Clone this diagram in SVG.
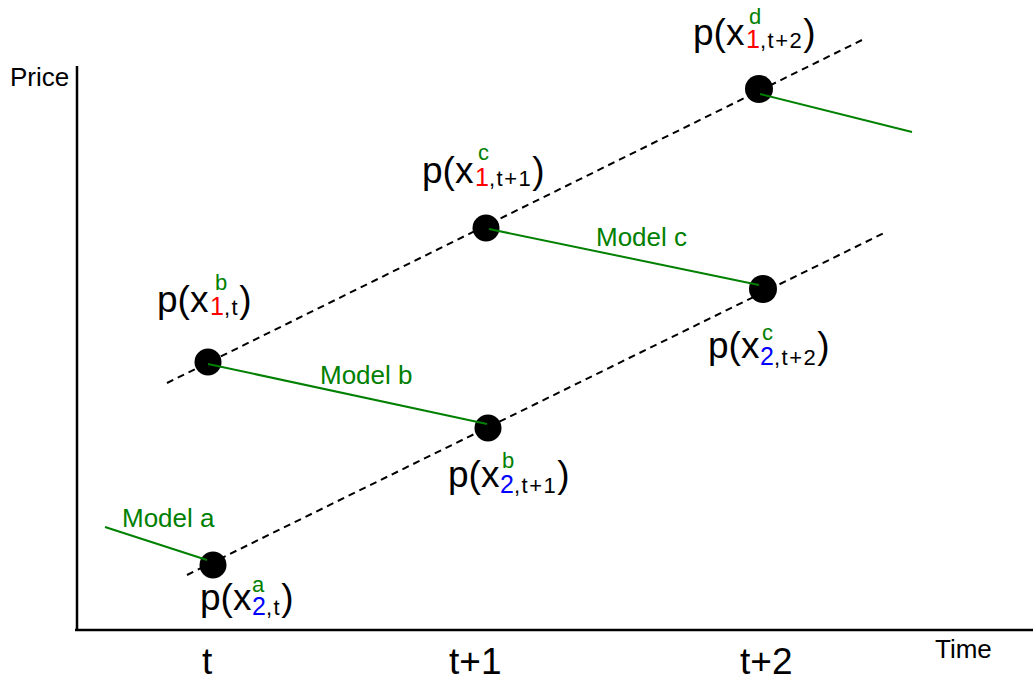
<svg xmlns="http://www.w3.org/2000/svg" width="1033" height="683" viewBox="0 0 1033 683">
<style>
text{font-family:"Liberation Sans",Arial,sans-serif;fill:#000}
.main{font-size:37px}
.sp{font-size:22px}
.ix{font-size:25px}
.rest{font-size:22px;letter-spacing:1.5px}
.g{fill:#008000}
.r{fill:#ff0000}
.b{fill:#0000ff}
.model{font-size:26px;fill:#008000}
.axis{stroke:#000;stroke-width:2.5;fill:none}
.dash{stroke:#000;stroke-width:2;stroke-dasharray:7 5;fill:none}
.conn{stroke:#008000;stroke-width:2;fill:none}
.dot{fill:#000}
.tick{font-size:37px}
.axl{font-size:26px}
</style>
<rect width="1033" height="683" fill="#fff"/>
<g id="axes">
<line class="axis" x1="77" y1="66" x2="77" y2="631"/>
<line class="axis" x1="75" y1="630" x2="1033" y2="630"/>
<text class="axl" x="10" y="86">Price</text>
<text class="axl" x="935" y="658">Time</text>
<text class="tick" x="202" y="674">t</text>
<text class="tick" x="449" y="674">t+1</text>
<text class="tick" x="740" y="674">t+2</text>
</g>
<g id="guides">
<line class="dash" x1="167" y1="383" x2="862" y2="40"/>
<line class="dash" x1="187" y1="575" x2="884" y2="233"/>
</g>
<g id="n_b1">
<circle class="dot" cx="208" cy="362" r="13.5"/>
<text class="main" x="157" y="312">p(x<tspan class="sp g" x="215" y="290">b</tspan><tspan class="ix r" x="210" y="315">1</tspan><tspan class="rest">,t</tspan><tspan class="main" y="312">)</tspan></text>
</g>
<g id="n_c1">
<circle class="dot" cx="486" cy="228" r="13.5"/>
<text class="main" x="422" y="183">p(x<tspan class="sp g" x="478" y="160">c</tspan><tspan class="ix r" x="475" y="186">1</tspan><tspan class="rest">,t+1</tspan><tspan class="main" y="183">)</tspan></text>
</g>
<g id="n_d1">
<circle class="dot" cx="759" cy="89" r="14"/>
<text class="main" x="693" y="45">p(x<tspan class="sp g" x="749" y="24">d</tspan><tspan class="ix r" x="746" y="48">1</tspan><tspan class="rest">,t+2</tspan><tspan class="main" y="45">)</tspan></text>
</g>
<g id="n_a2">
<circle class="dot" cx="213" cy="565" r="13.5"/>
<text class="main" x="200" y="610">p(x<tspan class="sp g" x="252" y="592">a</tspan><tspan class="ix b" x="252" y="615">2</tspan><tspan class="rest">,t</tspan><tspan class="main" y="610">)</tspan></text>
</g>
<g id="n_b2">
<circle class="dot" cx="488" cy="428" r="13.5"/>
<text class="main" x="448" y="487">p(x<tspan class="sp g" x="502" y="468">b</tspan><tspan class="ix b" x="500" y="493">2</tspan><tspan class="rest">,t+1</tspan><tspan class="main" y="487">)</tspan></text>
</g>
<g id="n_c2">
<circle class="dot" cx="763" cy="289" r="14"/>
<text class="main" x="708" y="358">p(x<tspan class="sp g" x="762" y="340">c</tspan><tspan class="ix b" x="760" y="365">2</tspan><tspan class="rest">,t+2</tspan><tspan class="main" y="358">)</tspan></text>
</g>
<g id="connectors">
<line class="conn" x1="105" y1="527" x2="207" y2="560"/>
<line class="conn" x1="208" y1="364" x2="487" y2="424"/>
<line class="conn" x1="489" y1="229" x2="759" y2="285"/>
<line class="conn" x1="760" y1="94" x2="912" y2="132"/>
<text class="model" x="122" y="527">Model a</text>
<text class="model" x="320" y="384">Model b</text>
<text class="model" x="596" y="246">Model c</text>
</g>
</svg>
